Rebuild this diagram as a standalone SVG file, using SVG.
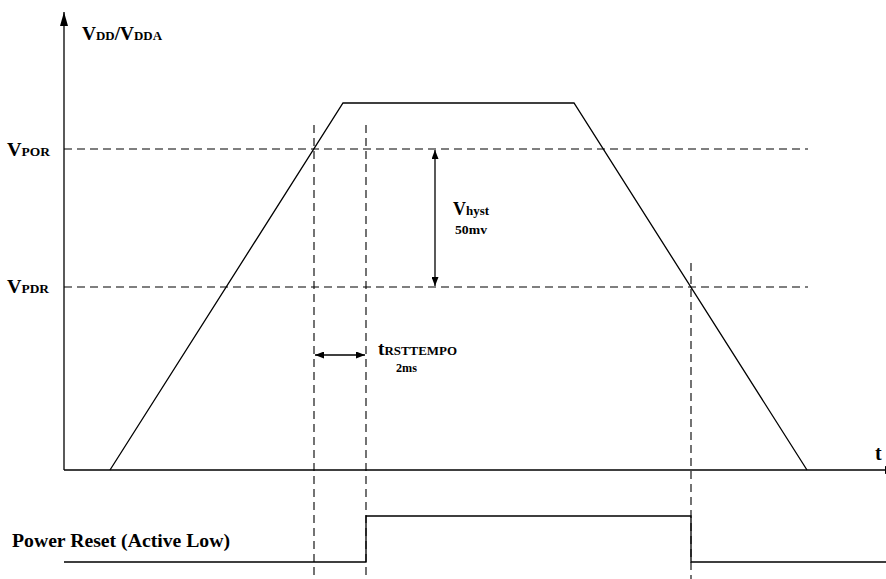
<svg xmlns="http://www.w3.org/2000/svg" width="886" height="579" viewBox="0 0 886 579">
<style>
.ln{stroke:#000;stroke-width:1.3;fill:none}
.ds{stroke:#000;stroke-width:1.1;fill:none;stroke-dasharray:8 5}
.t{font-family:"Liberation Serif","Times New Roman",serif;font-weight:bold;fill:#000}
.big{font-size:18px}
.sm{font-size:12px}
</style>
<defs>
<marker id="ah" viewBox="0 0 9 7" refX="9" refY="3.5" markerWidth="9" markerHeight="7" markerUnits="userSpaceOnUse" orient="auto-start-reverse">
<path d="M0,0 L9,3.5 L0,7 z" fill="#000"/>
</marker>
<marker id="axh" viewBox="0 0 14 8" refX="14" refY="4" markerWidth="14" markerHeight="8" markerUnits="userSpaceOnUse" orient="auto">
<path d="M0,0 L14,4 L0,8 z" fill="#000"/>
</marker>
</defs>
<g id="axes">
<line class="ln" x1="64" y1="470" x2="64" y2="12" marker-end="url(#axh)"/>
<line class="ln" x1="64" y1="470" x2="899" y2="470" marker-end="url(#axh)"/>
</g>
<g id="connectors">
<line class="ds" x1="64" y1="149" x2="808" y2="149"/>
<line class="ds" x1="64" y1="287" x2="808" y2="287"/>
<line class="ds" x1="314" y1="125" x2="314" y2="579"/>
<line class="ds" x1="366" y1="125" x2="366" y2="579"/>
<line class="ds" x1="691" y1="263" x2="691" y2="579"/>
<line class="ln" x1="435" y1="150" x2="435" y2="286" marker-start="url(#ah)" marker-end="url(#ah)"/>
<line class="ln" x1="315" y1="355" x2="365" y2="355" marker-start="url(#ah)" marker-end="url(#ah)"/>
</g>
<g id="vdd-curve">
<polyline class="ln" points="110,470 343,103 574,103 807,470"/>
</g>
<g id="reset-signal">
<polyline class="ln" points="64,562 366,562 366,516 691,516 691,562 886,562"/>
</g>
<g id="labels">
<text class="t" x="82" y="40" textLength="80" lengthAdjust="spacingAndGlyphs"><tspan class="big">V</tspan><tspan class="sm">DD</tspan><tspan class="big">/V</tspan><tspan class="sm">DDA</tspan></text>
<text class="t" x="7" y="156" textLength="43" lengthAdjust="spacingAndGlyphs"><tspan class="big">V</tspan><tspan class="sm">POR</tspan></text>
<text class="t" x="7" y="293" textLength="42" lengthAdjust="spacingAndGlyphs"><tspan class="big">V</tspan><tspan class="sm">PDR</tspan></text>
<text class="t" x="453" y="215" textLength="36" lengthAdjust="spacingAndGlyphs"><tspan class="big">V</tspan><tspan font-size="13px">hyst</tspan></text>
<text class="t sm" x="455" y="234" textLength="32" lengthAdjust="spacingAndGlyphs">50mv</text>
<text class="t" x="378" y="355" textLength="79" lengthAdjust="spacingAndGlyphs"><tspan class="big">t</tspan><tspan class="sm">RSTTEMPO</tspan></text>
<text class="t sm" x="396" y="372" textLength="21" lengthAdjust="spacingAndGlyphs">2ms</text>
<text class="t" x="875" y="460" font-size="20px">t</text>
<text class="t" x="12" y="547" font-size="19px" textLength="218" lengthAdjust="spacingAndGlyphs">Power Reset (Active Low)</text>
</g>
</svg>
